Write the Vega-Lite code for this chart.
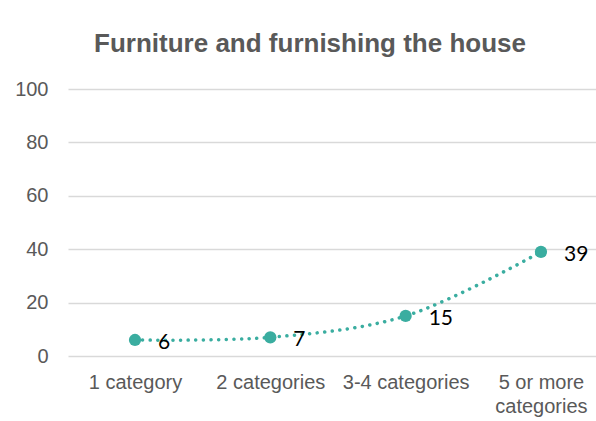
{
  "$schema": "https://vega.github.io/schema/vega-lite/v6.json",
  "width": 528,
  "height": 267,
  "autosize": {"type": "none"},
  "padding": {"left": 68, "top": 89, "right": 0, "bottom": 65},
  "background": "white",
  "title": {
    "text": "Furniture and furnishing the house",
    "font": "Liberation Sans",
    "fontSize": 26,
    "fontWeight": "bold",
    "color": "#595959",
    "anchor": "middle",
    "dx": -22,
    "offset": 22
  },
  "data": {
    "values": [
      {"group": "1 category", "value": 6},
      {"group": "2 categories", "value": 7},
      {"group": "3-4 categories", "value": 15},
      {"group": "5 or more categories", "value": 39}
    ]
  },
  "encoding": {
    "x": {
      "field": "group",
      "type": "nominal",
      "sort": null,
      "scale": {"type": "point", "padding": 0.451, "align": 0.549},
      "axis": {
        "title": null,
        "labelAngle": 0,
        "domain": false,
        "ticks": false,
        "grid": false,
        "labelFont": "Liberation Sans",
        "labelFontSize": 20,
        "labelColor": "#595959",
        "labelPadding": 16,
        "labelLineHeight": 24,
        "labelExpr": "datum.label == '5 or more categories' ? ['5 or more', 'categories'] : datum.label"
      }
    },
    "y": {
      "field": "value",
      "type": "quantitative",
      "scale": {"domain": [0, 100], "nice": false},
      "axis": {
        "title": null,
        "values": [0, 20, 40, 60, 80, 100],
        "domain": false,
        "ticks": false,
        "grid": true,
        "gridColor": "#d9d9d9",
        "gridWidth": 1.5,
        "labelFont": "Liberation Sans",
        "labelFontSize": 20,
        "labelColor": "#595959",
        "labelPadding": 20
      }
    }
  },
  "layer": [
    {
      "mark": {
        "type": "line",
        "interpolate": "catmull-rom",
        "color": "#3aada0",
        "strokeWidth": 3.5,
        "strokeDash": [0.1, 7.5],
        "strokeCap": "round"
      }
    },
    {
      "mark": {"type": "circle", "color": "#3aada0", "opacity": 1, "size": 150}
    },
    {
      "mark": {
        "type": "text",
        "align": "left",
        "baseline": "middle",
        "dx": 23,
        "dy": 3,
        "font": "Lato",
        "fontSize": 21,
        "color": "#000000"
      },
      "encoding": {"text": {"field": "value", "type": "quantitative"}}
    }
  ],
  "config": {"view": {"stroke": null}}
}
